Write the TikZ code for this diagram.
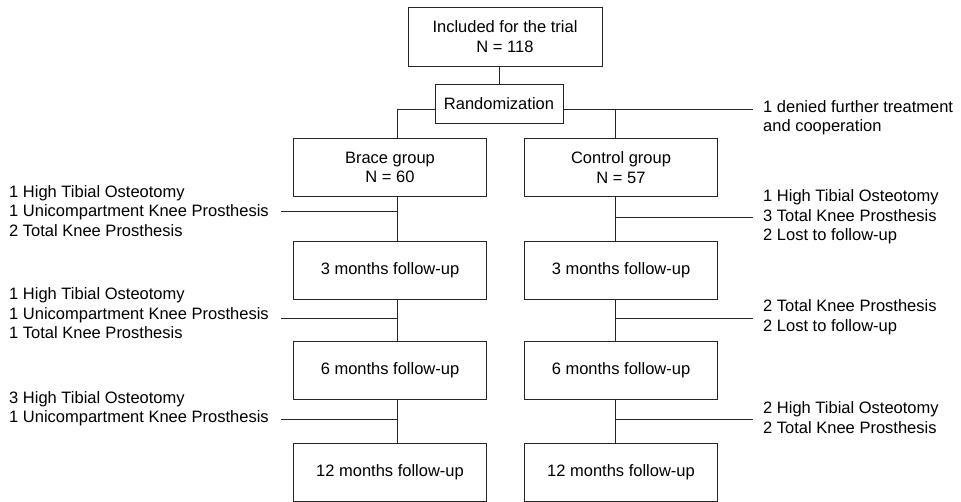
\documentclass[tikz,border=0pt]{standalone}
\usepackage{fontspec}
\setmainfont{Liberation Sans}
\usetikzlibrary{positioning}

\begin{document}
\begin{tikzpicture}[x=1pt,y=-1pt,
    every node/.style={font=\fontsize{16.5}{19.5}\selectfont},
    stagebox/.style={draw=black!85, line width=0.9pt, minimum width=193pt,
      minimum height=58pt, align=center, inner sep=2pt},
    note/.style={align=left, inner sep=0pt, anchor=west},
    link/.style={draw=black!85, line width=0.9pt}]
  \useasboundingbox (0,0) rectangle (961,502);

  % boxes
  \node[stagebox, minimum width=194pt, minimum height=59pt] (incl) at (505,36.5)
    {Included for the trial\\N = 118};
  \node[stagebox, minimum width=128pt, minimum height=39pt] (rand) at (499,103.5)
    {Randomization};
  \node[stagebox] (brace) at (390,167.5) {Brace group\\N = 60};
  \node[stagebox] (ctrl) at (621,167.5) {Control group\\N = 57};
  \node[stagebox] (b3) at (390,270) {3 months follow-up};
  \node[stagebox] (c3) at (621,270) {3 months follow-up};
  \node[stagebox] (b6) at (390,370.5) {6 months follow-up};
  \node[stagebox] (c6) at (621,370.5) {6 months follow-up};
  \node[stagebox] (b12) at (390,472) {12 months follow-up};
  \node[stagebox] (c12) at (621,472) {12 months follow-up};

  % drop-outs
  \node[note] (lb1) at (9,211) {1 High Tibial Osteotomy\\1 Unicompartment Knee Prosthesis\\2 Total Knee Prosthesis};
  \node[note] (lb2) at (9,313.5) {1 High Tibial Osteotomy\\1 Unicompartment Knee Prosthesis\\1 Total Knee Prosthesis};
  \node[note] (lb3) at (9,408.5) {3 High Tibial Osteotomy\\1 Unicompartment Knee Prosthesis};
  \node[note] (deny) at (763,117.5) {1 denied further treatment\\and cooperation};
  \node[note] (rc1) at (763,217) {1 High Tibial Osteotomy\\3 Total Knee Prosthesis\\2 Lost to follow-up};
  \node[note] (rc2) at (763,317) {2 Total Knee Prosthesis\\2 Lost to follow-up};
  \node[note] (rc3) at (763,417.5) {2 High Tibial Osteotomy\\2 Total Knee Prosthesis};

  \coordinate (spL) at (397,109);
  \coordinate (spR) at (615,109);
  \coordinate (denyEnd) at (753,109);
  \coordinate (lx1) at (281,211);
  \coordinate (lx2) at (281,318);
  \coordinate (lx3) at (281,419);
  \coordinate (rx1) at (753,217);
  \coordinate (rx2) at (753,318);
  \coordinate (rx3) at (753,419);

  % connectors
  \draw[link] (rand.north) -- (rand.north |- incl.south);
  \draw[link] (rand.west |- spL) -- (spL) -- (spL |- brace.north);
  \draw[link] (rand.east |- spR) -- (denyEnd);
  \draw[link] (spR) -- (spR |- ctrl.north);

  \draw[link] (brace.south -| spL) -- (b3.north -| spL);
  \draw[link] (b3.south -| spL) -- (b6.north -| spL);
  \draw[link] (b6.south -| spL) -- (b12.north -| spL);
  \draw[link] (ctrl.south -| spR) -- (c3.north -| spR);
  \draw[link] (c3.south -| spR) -- (c6.north -| spR);
  \draw[link] (c6.south -| spR) -- (c12.north -| spR);

  \draw[link] (lx1) -- (lx1 -| spL);
  \draw[link] (lx2) -- (lx2 -| spL);
  \draw[link] (lx3) -- (lx3 -| spL);
  \draw[link] (rx1) -- (rx1 -| spR);
  \draw[link] (rx2) -- (rx2 -| spR);
  \draw[link] (rx3) -- (rx3 -| spR);
\end{tikzpicture}
\end{document}
